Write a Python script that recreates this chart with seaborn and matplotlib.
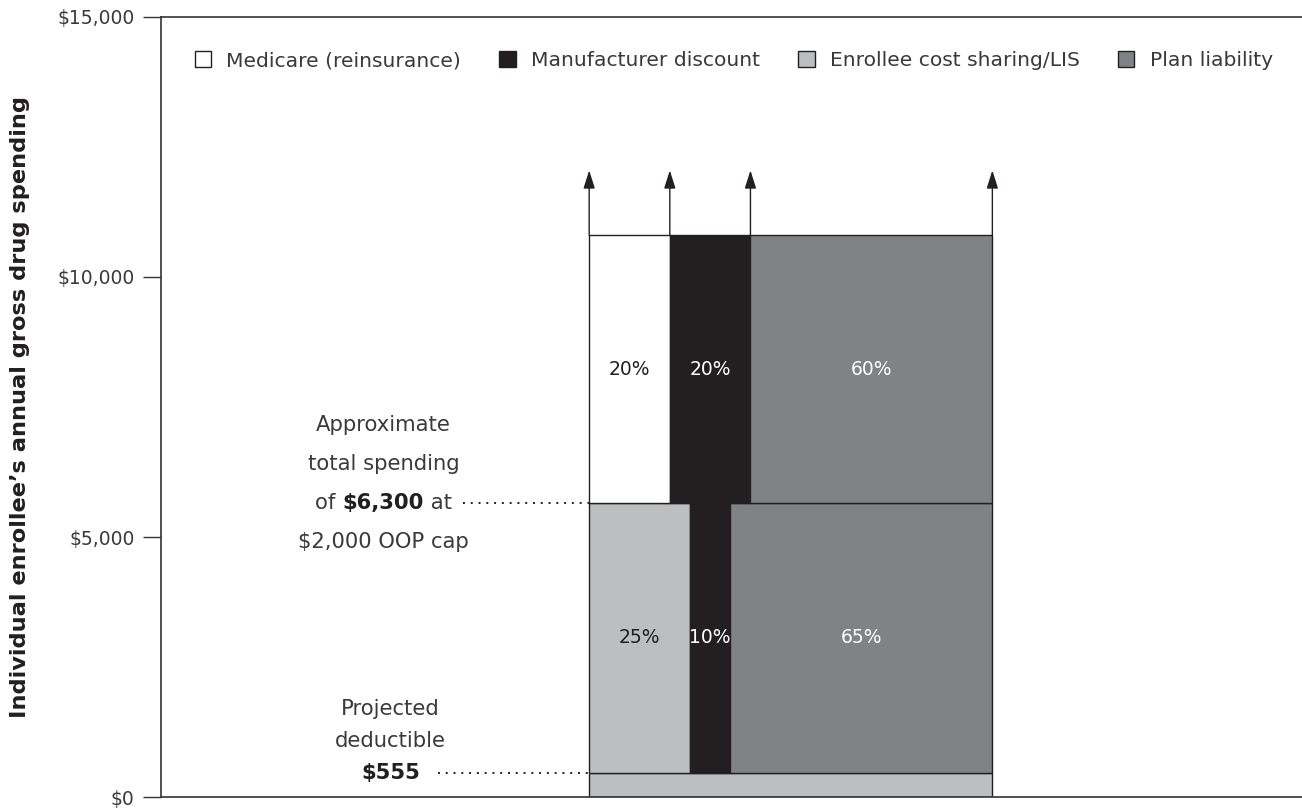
import matplotlib
matplotlib.use("Agg")
import matplotlib.pyplot as plt
from matplotlib.patches import Patch
import seaborn as sns

# Phase boundaries on the gross spending axis (as drawn)
tier_bounds = [0, 470, 5650, 10800]
arrow_top = 12050

categories = ["Medicare (reinsurance)", "Manufacturer discount",
              "Enrollee cost sharing/LIS", "Plan liability"]
colors = ["#ffffff", "#231f20", "#bcbec0", "#808285"]
label_colors = ["#231f20", "#ffffff", "#231f20", "#ffffff"]

# shares (%) by phase: (category index, share)
deductible_cats = [2]
deductible_shares = [100]
initial_cats = [2, 1, 3]
initial_shares = [25, 10, 65]
catastrophic_cats = [0, 1, 3]
catastrophic_shares = [20, 20, 60]

y_ticks = [0, 5000, 10000, 15000]
y_tick_labels = ["$0", "$5,000", "$10,000", "$15,000"]

sns.set_style("white")
plt.rcParams["font.family"] = ["DejaVu Sans"]
TXT = "#3a3a3a"
EDGE = "#231f20"
ANN_FS = 15.2

fig = plt.figure(figsize=(13.02, 8.09), dpi=100)
ax = fig.add_axes([161 / 1302, 12 / 809, 1 - 161 / 1302, 780 / 809])


def draw_phase(y0, y1, cats, shares, labels=True):
    left = 0
    for c, s in zip(cats, shares):
        ax.bar(left, y1 - y0, width=s, bottom=y0, align="edge",
               color=colors[c], edgecolor=EDGE, linewidth=1.0, zorder=2)
        if labels:
            ax.text(left + s / 2, (y0 + y1) / 2, f"{s}%", ha="center",
                    va="center", fontsize=13.5, color=label_colors[c], zorder=3)
        left += s


draw_phase(tier_bounds[0], tier_bounds[1], deductible_cats, deductible_shares, labels=False)
draw_phase(tier_bounds[1], tier_bounds[2], initial_cats, initial_shares)
draw_phase(tier_bounds[2], tier_bounds[3], catastrophic_cats, catastrophic_shares)

# arrows rising from the catastrophic phase
xs = [0]
for s in catastrophic_shares:
    xs.append(xs[-1] + s)
for x in xs:
    ax.annotate("", xy=(x, arrow_top), xytext=(x, tier_bounds[3]),
                arrowprops=dict(arrowstyle="-|>,head_length=1.1,head_width=0.35",
                                color=EDGE, lw=1.0, mutation_scale=10,
                                shrinkA=0, shrinkB=0), zorder=3)

ax.set_xlim(-106.2, 176.8)
ax.set_ylim(0, 15000)
ax.set_yticks(y_ticks)
ax.set_yticklabels(y_tick_labels, fontsize=13.5, color=TXT)
ax.set_xticks([])
ax.tick_params(axis="y", direction="out", length=13, width=1.0, color="#333333",
               left=True, pad=6)
for side in ["left", "top", "bottom"]:
    ax.spines[side].set_color("#333333")
    ax.spines[side].set_linewidth(1.2)
ax.spines["right"].set_visible(False)

ax.set_ylabel("Individual enrollee\u2019s annual gross drug spending",
              fontsize=16.2, fontweight="bold", color=EDGE, labelpad=20)

# dotted leader lines
ax.plot([-31.3, 0], [tier_bounds[2]] * 2, ls=(0, (1, 3)), color=EDGE, lw=1.4, zorder=1)
ax.plot([-37.5, 0], [tier_bounds[1]] * 2, ls=(0, (1, 3)), color=EDGE, lw=1.4, zorder=1)

# annotation text, line by line
cx = -51
ax_tr = ax.transData
line_h = 39 * 15000 / 780
cap_lines = ["Approximate", "total spending", None, "$2,000 OOP cap"]
for i, t in enumerate(cap_lines):
    y = tier_bounds[2] + (2 - i) * line_h
    if t:
        ax.text(cx, y, t, ha="center", va="center", fontsize=ANN_FS, color=TXT)

# mixed-weight line: "of $6,300 at"
fig.canvas.draw()
r = fig.canvas.get_renderer()
y3 = tier_bounds[2]
parts = [("of ", "normal"), ("$6,300", "bold"), (" at", "normal")]
tmp = [ax.text(0, 0, p, fontsize=ANN_FS, fontweight=w) for p, w in parts]
widths = [t.get_window_extent(r).width for t in tmp]
for t in tmp:
    t.remove()
total = sum(widths)
x0_px = ax_tr.transform((cx, y3))[0] - total / 2
inv = ax_tr.inverted()
for (p, w), wd in zip(parts, widths):
    xd = inv.transform((x0_px, 0))[0]
    ax.text(xd, y3, p, ha="left", va="center", fontsize=ANN_FS, fontweight=w,
            color=EDGE if w == "bold" else TXT)
    x0_px += wd

dx = -49.3
ded_lines = ["Projected", "deductible"]
for i, t in enumerate(ded_lines):
    y = tier_bounds[1] + (2 - i) * 32 * 15000 / 780
    ax.text(dx, y, t, ha="center", va="center", fontsize=ANN_FS, color=TXT)
ax.text(dx, tier_bounds[1], "$555", ha="center", va="center", fontsize=ANN_FS,
        fontweight="bold", color=EDGE)

handles = [Patch(facecolor=c, edgecolor=EDGE, linewidth=1.0) for c in colors]
ax.legend(handles, categories, loc="center", bbox_to_anchor=(0.502, 0.944),
          ncol=4, frameon=False, fontsize=14.6, handlelength=0.8,
          handleheight=0.8, handletextpad=0.75, columnspacing=1.9,
          labelcolor=TXT)

fig.savefig("out.png", dpi=100)
